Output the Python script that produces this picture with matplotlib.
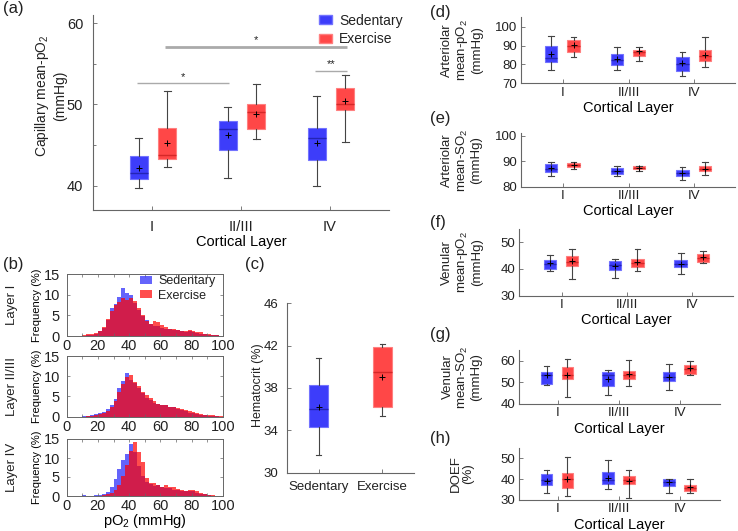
import matplotlib
matplotlib.use('Agg')
import matplotlib.pyplot as plt
from matplotlib.patches import Patch
import numpy as np

plt.rcParams['font.family'] = ['Liberation Sans', 'DejaVu Sans']
plt.rcParams['mathtext.fontset'] = 'custom'
plt.rcParams['mathtext.rm'] = 'Liberation Sans'
plt.rcParams['mathtext.it'] = 'Liberation Sans:italic'
plt.rcParams['text.color'] = '#222222'

W, H = 738, 531

layers = ['I', 'II/III', 'IV']
groups = ['Sedentary', 'Exercise']

# box stats per layer: (whislo, q1, median, mean, q3, whishi)
cap_sed = [(39.7, 40.8, 41.6, 42.2, 43.7, 45.9),
           (40.95, 44.4, 47.0, 46.2, 48.0, 49.7),
           (39.9, 43.2, 45.9, 45.3, 47.15, 51.0)]
cap_exe = [(42.25, 43.3, 43.8, 45.2, 47.15, 51.7),
           (45.7, 46.95, 49.0, 48.8, 50.0, 52.5),
           (45.4, 49.35, 50.05, 50.45, 52.05, 53.6)]

# significance: (layer, group) -> (layer, group), y, text
sig_from = [(0, 0), (0, 1), (2, 0)]
sig_to = [(1, 0), (2, 1), (2, 1)]
sig_y = [52.6, 57.1, 54.1]
sig_txt = ['*', '*', '**']

hct_sed = (31.7, 34.3, 36.0, 36.2, 38.25, 40.8)
hct_exe = (35.4, 36.2, 39.5, 39.05, 41.85, 42.2)

art_po2_sed = [(77.2, 81.5, 83.3, 85.4, 90.0, 95.1),
               (77.1, 79.6, 82.5, 82.7, 85.6, 89.1),
               (74.1, 76.4, 80.0, 80.6, 83.8, 86.8)]
art_po2_exe = [(84.1, 86.8, 89.8, 90.3, 93.0, 94.4),
               (82.0, 84.5, 86.5, 87.0, 87.7, 89.1),
               (78.5, 82.0, 84.5, 85.0, 87.7, 94.4)]
art_so2_sed = [(84.2, 85.9, 87.0, 87.2, 88.8, 89.8),
               (84.2, 85.0, 86.2, 86.0, 87.2, 88.2),
               (82.6, 84.3, 85.3, 85.5, 86.6, 87.6)]
art_so2_exe = [(86.8, 87.6, 88.5, 88.6, 89.4, 89.8),
               (86.0, 86.8, 87.5, 87.5, 88.0, 88.2),
               (84.6, 86.0, 87.0, 87.0, 87.9, 89.8)]
ven_po2_sed = [(39.4, 39.9, 42.0, 42.1, 43.4, 45.2),
               (36.7, 39.6, 41.5, 41.1, 43.0, 43.7),
               (38.0, 40.6, 41.8, 41.8, 43.4, 46.1)]
ven_po2_exe = [(36.1, 41.1, 42.5, 43.0, 44.9, 47.5),
               (39.2, 40.9, 42.4, 42.7, 43.6, 47.4),
               (42.4, 42.6, 44.0, 44.5, 45.6, 46.9)]
ven_so2_sed = [(48.8, 49.3, 53.5, 53.2, 55.0, 57.7),
               (44.2, 48.5, 53.5, 51.6, 54.6, 55.8),
               (46.5, 50.7, 52.5, 52.4, 54.6, 58.5)]
ven_so2_exe = [(43.1, 51.6, 53.3, 53.5, 57.1, 60.8),
               (48.4, 51.5, 53.5, 53.8, 55.3, 60.5),
               (53.5, 53.8, 56.0, 56.6, 58.1, 59.7)]
doef_sed = [(33.6, 37.2, 39.5, 39.1, 42.4, 44.4),
            (35.2, 37.6, 39.5, 40.4, 43.6, 49.2),
            (33.5, 36.8, 38.5, 38.5, 39.9, 40.0)]
doef_exe = [(31.9, 35.9, 40.0, 40.0, 42.8, 50.6),
            (31.1, 37.5, 39.5, 39.2, 41.7, 44.4),
            (33.2, 34.3, 35.8, 36.1, 37.2, 40.1)]

# histograms of capillary pO2 (% per 2.5 mmHg bin, 0-100 mmHg)
bin_edges = np.arange(0, 100.1, 2.5)
hist_sed = {
    'I': [0, 0, 0, 0, 0.1, 0.2, 0.3, 0.6, 1.2, 2.0, 3.8, 6.8, 7.8, 9.5, 11.5, 10.3,
          9.8, 8.0, 6.2, 4.8, 3.8, 2.8, 2.4, 2.3, 2.0, 1.8, 1.6, 1.5, 1.4, 1.2,
          0.9, 1.1, 0.9, 0.7, 0.5, 0.4, 0.3, 0.2, 0.15, 0.1],
    'II/III': [0, 0, 0, 0, 0.05, 0.1, 0.3, 0.6, 0.9, 1.2, 1.8, 3.0, 4.3, 7.2, 8.8, 10.7,
               9.0, 8.4, 7.0, 5.8, 4.6, 4.2, 3.5, 3.2, 3.0, 2.8, 2.5, 2.4, 2.0, 1.7,
               1.3, 1.0, 0.8, 0.6, 0.4, 0.3, 0.2, 0.1, 0.05, 0.02],
    'IV': [0, 0, 0, 0, 0.3, 0, 0.1, 0.2, 0.3, 0.4, 1.0, 2.5, 4.4, 7.2, 9.5, 11.0,
           13.7, 11.5, 8.0, 5.2, 3.8, 3.2, 2.6, 2.8, 2.3, 2.2, 2.0, 1.6, 1.5, 1.4,
           1.3, 1.2, 1.3, 0.9, 0.6, 0.4, 0.2, 0.1, 0, 0],
}
hist_exe = {
    'I': [0, 0, 0, 0, 0.3, 0.6, 0.5, 0.7, 1.3, 2.2, 4.0, 6.0, 7.5, 8.3, 9.2, 8.6,
          9.3, 8.5, 6.8, 5.2, 3.6, 3.0, 3.6, 3.4, 2.6, 2.2, 1.7, 1.6, 1.5, 1.3,
          1.1, 1.5, 1.2, 1.0, 0.9, 0.6, 0.4, 0.3, 0.2, 0.1],
    'II/III': [0, 0, 0, 0, 0, 0.1, 0.2, 0.4, 0.6, 1.0, 1.5, 2.5, 4.0, 6.2, 8.2, 9.8,
               10.3, 8.6, 7.6, 6.0, 5.3, 4.5, 3.8, 3.2, 3.0, 2.8, 2.5, 2.3, 2.2, 1.8,
               1.6, 1.3, 1.1, 0.9, 0.7, 0.5, 0.4, 0.3, 0.1, 0.05],
    'IV': [0, 0, 0, 0, 0, 0, 0, 0.1, 0.1, 0.2, 0.4, 0.8, 1.5, 2.8, 5.2, 8.2,
           11.8, 14.1, 11.5, 9.0, 4.8, 3.5, 3.3, 3.0, 2.5, 2.8, 2.3, 2.5, 1.8, 1.6,
           1.4, 1.5, 1.6, 1.3, 0.9, 0.5, 0.3, 0.2, 0.05, 0],
}

BLUE = (0.24, 0.24, 0.98)
BLUE_EDGE = (0.45, 0.45, 1.0)
BLUE_MED = '#2424b4'
RED = (1.0, 0.28, 0.28)
RED_EDGE = (1.0, 0.5, 0.5)
RED_MED = '#d42828'
AXC = '#666666'
WHC = '#444444'


def rect(l, t, r, b):
    return [l / W, 1 - b / H, (r - l) / W, (b - t) / H]


def ftext(x, y, s, **kw):
    fig.text(x / W, 1 - y / H, s, **kw)


def stats(rows):
    return [dict(whislo=r[0], q1=r[1], med=r[2], mean=r[3], q3=r[4], whishi=r[5], fliers=[])
            for r in rows]


def draw_boxes(ax, rows, pos, width, face, edge, med, capw):
    ax.bxp(stats(rows), positions=pos, widths=width, patch_artist=True, showmeans=True,
           manage_ticks=False, capwidths=capw,
           boxprops=dict(facecolor=face, edgecolor=edge, linewidth=0.8),
           whiskerprops=dict(color=WHC, linewidth=0.8),
           capprops=dict(color=WHC, linewidth=0.8),
           medianprops=dict(color=med, linewidth=1.0),
           meanprops=dict(marker='+', markeredgecolor='k', markersize=5, markeredgewidth=0.7))


def open_axes(ax, tsize, pad):
    for s in ['top', 'right']:
        ax.spines[s].set_visible(False)
    for s in ['left', 'bottom']:
        ax.spines[s].set_color(AXC)
        ax.spines[s].set_linewidth(0.8)
    ax.tick_params(direction='in', length=3, width=0.6, color=AXC, labelsize=tsize,
                   labelcolor='#222222', pad=pad)


fig = plt.figure(figsize=(W / 100, H / 100), dpi=100)

# ---- (a) capillary mean pO2
ax = fig.add_axes(rect(93, 15, 389, 210))
x = np.arange(1, 4)
off_a = [-0.15, 0.17]
draw_boxes(ax, cap_sed, x + off_a[0], 0.2, BLUE, BLUE_EDGE, BLUE_MED, 0.08)
draw_boxes(ax, cap_exe, x + off_a[1], 0.2, RED, RED_EDGE, RED_MED, 0.08)
for (l0, g0), (l1, g1), yv, t in zip(sig_from, sig_to, sig_y, sig_txt):
    x0 = x[l0] + off_a[g0]
    x1 = x[l1] + off_a[g1]
    lw = 2.0 if x1 - x0 > 1.5 else 1.0
    ax.plot([x0 - 0.02, x1 + 0.02], [yv, yv], color='#aaaaaa', lw=lw, solid_capstyle='butt')
    ax.text((x0 + x1) / 2, yv + 0.2, t, ha='center', va='bottom', fontsize=8)
ax.set_xlim(0.337, 3.663)
ax.set_ylim(37, 61)
ax.set_yticks([40, 50, 60])
ax.set_yticks([45, 55], minor=True)
ax.set_xticks(x)
ax.set_xticklabels(layers)
open_axes(ax, 10.5, 7)
ax.tick_params(which='minor', direction='in', length=2, color=AXC)
ax.set_xlabel('Cortical Layer', fontsize=10.5, labelpad=1)
ftext(50, 96, 'Capillary mean-pO$_2$\n(mmHg)', rotation=90, ha='center', va='center',
      fontsize=10, linespacing=1.15)
fig.legend(handles=[Patch(facecolor=BLUE, edgecolor=BLUE_EDGE), Patch(facecolor=RED, edgecolor=RED_EDGE)],
           labels=groups, loc='upper left', bbox_to_anchor=(306 / W, 1 - 1 / H), frameon=False,
           fontsize=10, handlelength=1.0, handleheight=0.6, handletextpad=0.5, labelspacing=0.35)
ftext(3, 9, '(a)', fontsize=12, va='center')

# ---- (b) histograms
centers = (bin_edges[:-1] + bin_edges[1:]) / 2
hist_rects = [(274, 336), (356, 416.7), (439, 496)]
for i, (lay, (t, b)) in enumerate(zip(layers, hist_rects)):
    ax = fig.add_axes(rect(66.7, t, 222.7, b))
    ax.bar(centers, hist_sed[lay], width=2.5, color=BLUE, alpha=0.8, linewidth=0, label='Sedentary')
    ax.bar(centers, hist_exe[lay], width=2.5, color=(1.0, 0.0, 0.0), alpha=0.7, linewidth=0,
           label='Exercise')
    ax.set_xlim(0, 100)
    ax.set_ylim(0, 15)
    ax.set_xticks(np.arange(0, 101, 20))
    ax.set_xticks(np.arange(10, 100, 20), minor=True)
    ax.set_yticks([0, 5, 10, 15])
    for s in ax.spines.values():
        s.set_color(AXC)
        s.set_linewidth(0.7)
    ax.tick_params(which='both', direction='in', length=2, width=0.5, color=AXC, top=True,
                   right=True, labelsize=10.5, labelcolor='#222222')
    ax.tick_params(axis='x', pad=2.5)
    ax.tick_params(axis='y', pad=5)
    ax.set_ylabel('Frequency (%)', fontsize=8, labelpad=1)
    ftext(12, (t + b) / 2, 'Layer ' + lay, rotation=90, ha='center', va='center', fontsize=9.5)
    if i == 0:
        ax.legend(loc='upper right', bbox_to_anchor=(1.0, 1.1), frameon=False, fontsize=9,
                  handlelength=0.9, handleheight=0.6, handletextpad=0.5, labelspacing=0.2,
                  borderaxespad=0.2)
    if i == 2:
        ax.set_xlabel('pO$_2$ (mmHg)', fontsize=10.5, labelpad=-1)
ftext(3, 265, '(b)', fontsize=12, va='center')

# ---- (c) hematocrit
ax = fig.add_axes(rect(286.7, 303.3, 414, 472.7))
draw_boxes(ax, [hct_sed], [1], 0.3, BLUE, BLUE_EDGE, BLUE_MED, 0.08)
draw_boxes(ax, [hct_exe], [2], 0.3, RED, RED_EDGE, RED_MED, 0.08)
ax.set_xlim(0.5, 2.5)
ax.set_ylim(30, 46)
ax.set_yticks([30, 34, 38, 42, 46])
ax.set_xticks([1, 2])
ax.set_xticklabels(groups)
open_axes(ax, 9.5, 6)
ftext(258, 385, 'Hematocrit (%)', rotation=90, ha='center', va='center', fontsize=9)
ftext(245, 265, '(c)', fontsize=12, va='center')

# ---- (d)-(h)
panels = [
    ('(d)', 'Arteriolar\nmean-pO$_2$\n(mmHg)', art_po2_sed, art_po2_exe, (70, 105),
     [70, 80, 90, 100], (521, 17.2, 735, 83.3), (0.36, 3.62), 12),
    ('(e)', 'Arteriolar\nmean-SO$_2$\n(mmHg)', art_so2_sed, art_so2_exe, (80, 101),
     [80, 90, 100], (521, 133, 735, 186.7), (0.36, 3.62), 118),
    ('(f)', 'Venular\nmean-pO$_2$\n(mmHg)', ven_po2_sed, ven_po2_exe, (30, 55),
     [30, 40, 50], (519, 228.9, 733, 295.7), (0.35, 3.62), 223),
    ('(g)', 'Venular\nmean-SO$_2$\n(mmHg)', ven_so2_sed, ven_so2_exe, (40, 65),
     [40, 50, 60], (519, 350, 720, 404), (0.37, 3.65), 335),
    ('(h)', 'DOEF\n(%)', doef_sed, doef_exe, (30, 55),
     [30, 40, 50], (519, 448, 720, 500), (0.37, 3.65), 439),
]
for letter, ylab, sed, exe, ylim, yt, r, xl, ly in panels:
    ax = fig.add_axes(rect(*r))
    draw_boxes(ax, sed, x - 0.18, 0.19, BLUE, BLUE_EDGE, BLUE_MED, 0.09)
    draw_boxes(ax, exe, x + 0.16, 0.19, RED, RED_EDGE, RED_MED, 0.09)
    ax.set_xlim(*xl)
    ax.set_ylim(*ylim)
    ax.set_yticks(yt)
    ax.set_xticks(x)
    ax.set_xticklabels(layers)
    open_axes(ax, 9.5, 2.5)
    ax.set_xlabel('Cortical Layer', fontsize=10.5, labelpad=1.5)
    ftext(462, (r[1] + r[3]) / 2, ylab, rotation=90, ha='center', va='center', fontsize=9.5,
          linespacing=1.1)
    ftext(430, ly, letter, fontsize=12, va='center')

fig.savefig('out.png', dpi=100)
